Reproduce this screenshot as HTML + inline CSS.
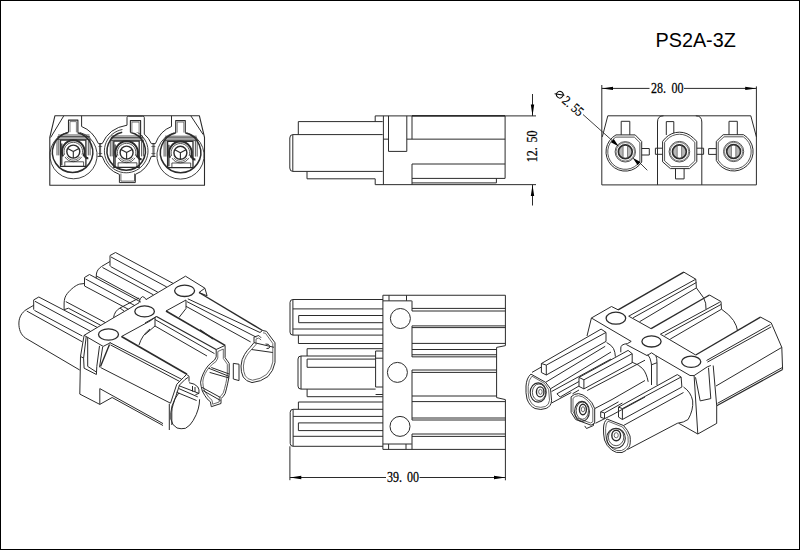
<!DOCTYPE html>
<html><head><meta charset="utf-8"><style>
html,body{margin:0;padding:0;background:#fff;}
svg{display:block;}
.ln{fill:none;stroke:#2b2b2b;stroke-width:1;stroke-linejoin:round;}
</style></head><body>
<svg width="800" height="550" viewBox="0 0 800 550">
<!-- border -->
<rect x="0.5" y="0.5" width="799" height="549" fill="none" stroke="#000" stroke-width="1"/>
<text x="655.5" y="46.7" font-family="'Liberation Sans', sans-serif" font-size="19.8" fill="#000">PS2A-3Z</text>

<!-- SIDE VIEW -->
<g class="ln">
<path d="M298.3 134.6 V121.6 H382.7"/>
<path d="M292.8 134.6 H382.7 M292.8 171.4 H382.7"/>
<path d="M292.8 134.6 Q289.8 134.6 289.8 138 V168 Q289.8 171.4 292.8 171.4 V134.6"/>
<path d="M307 171.4 V178.8 H375.2"/>
<path d="M375.2 121.6 V115.9 H412 M505.1 115.9 V178.4 M375.2 178.8 V184.65 H536"/>
<path d="M412 115.9 H505.1" stroke-width="1.6"/>
<path d="M383.4 115.9 V184.65"/>
<path d="M388.5 115.9 V151.4 H406.8 V115.9 M383.4 139.15 H388.5"/>
<path d="M406.8 139.15 H505.1 M412 115.9 V139.15"/>
<path d="M412 184.65 V164 H505.1 M412 178.4 H505.1"/>
<path d="M412 182.9 H496.4 V178.4"/>
<path d="M505.1 115.9 H536"/>
<path d="M532.5 94 V115.9 M532.5 184.65 V205.5"/>
</g>
<path d="M532.5 115.9 L530.8 104.5 L534.2 104.5 Z M532.5 184.65 L530.8 196 L534.2 196 Z" fill="#000"/>
<g transform="translate(537.2,162.2) rotate(-90)" font-family="'Liberation Serif', serif" font-size="14" fill="#000" stroke="#000" stroke-width="0.25">
<text transform="scale(0.86,1)">12.</text><text transform="translate(19.8,0) scale(0.86,1)">50</text></g>

<!-- REAR VIEW -->
<g class="ln">
<path d="M601.8 85 V184.9 H756.4 V86.4"/>
<path d="M602.3 136.9 L607.8 115.8 H750.8 L756.4 136.9"/>
<path d="M657.5 184.9 V122 Q657.5 115.8 663.5 115.8 M701.8 184.9 V122 Q701.8 115.8 695.8 115.8"/>
<path d="M601.8 88.4 H649.5 M684 88.4 H756.4"/>
<!-- hole1 -->
<path d="M616 134.9 A19.3 19.3 0 1 0 641.7 162 V141.5 L635.2 134.9 Z"/>
<path d="M615.8 137.1 A17.5 17.5 0 1 0 639.9 161.4 V142.6 L634.3 137.1 Z" stroke-width="0.8"/>
<circle cx="625.3" cy="151.8" r="10.2" stroke-width="0.8"/>
<circle cx="625.3" cy="151.8" r="9.2" stroke-width="0.6"/>
<circle cx="625.3" cy="151.8" r="6.3" fill="#b8b8b8" stroke="none" style="fill:#b8b8b8;stroke:none"/><rect x="623.1" y="145.3" width="4.4" height="13" fill="#fff" style="fill:#fff;stroke:none"/><circle cx="625.3" cy="151.8" r="6.9" stroke-width="1.7"/>
<path d="M621.2 134.9 V121.3 H629.8 V134.9 M641.7 148.5 H649.3 V155 H641.7"/>
<path d="M623.1 145.3 V158.3 M627.5 145.3 V158.3" stroke-width="0.7" stroke="#555"/>
<!-- hole2 -->
<path d="M665.4 138.1 A19.5 19.5 0 0 1 693.4 138.1 L696.8 141.3 V161.8 L689.5 168.6 H670.4 L662.6 161.8 V141.3 Z"/>
<path d="M667 139.4 A17.5 17.5 0 0 1 691.8 139.4 L694.8 142.3 V160.9 L688.7 166.6 H671.2 L664.6 160.9 V142.3 Z" stroke-width="0.8"/>
<circle cx="679.4" cy="151.7" r="10.3" stroke-width="0.8"/>
<circle cx="679.4" cy="151.7" r="9.3" stroke-width="0.6"/>
<circle cx="679.4" cy="151.7" r="6.3" fill="#b8b8b8" stroke="none" style="fill:#b8b8b8;stroke:none"/><rect x="677.2" y="145.2" width="4.4" height="13" fill="#fff" style="fill:#fff;stroke:none"/><circle cx="679.4" cy="151.7" r="6.9" stroke-width="1.7"/>
<path d="M666.3 135 V121.6 H673.8 V133 M662.6 148.2 H655.4 V154.3 H662.6 M696.8 148.2 H703.6 V154.3 H696.8 M675.5 168.6 V178.9 H684.1 V168.6"/>
<path d="M677.2 145.2 V158.2 M681.6 145.2 V158.2" stroke-width="0.7" stroke="#555"/>
<!-- hole3 -->
<path d="M743.5 134.7 A19.5 19.5 0 1 1 716.3 160.5 V141.3 L723.2 134.7 Z"/>
<path d="M743.3 136.8 A17.6 17.6 0 1 1 718.2 160 V142.2 L724 136.8 Z" stroke-width="0.8"/>
<circle cx="733.6" cy="151.5" r="10.1" stroke-width="0.8"/>
<circle cx="733.6" cy="151.5" r="9.1" stroke-width="0.6"/>
<circle cx="733.6" cy="151.5" r="6.3" fill="#b8b8b8" stroke="none" style="fill:#b8b8b8;stroke:none"/><rect x="731.4" y="145.0" width="4.4" height="13" fill="#fff" style="fill:#fff;stroke:none"/><circle cx="733.6" cy="151.5" r="6.9" stroke-width="1.7"/>
<path d="M729 134.7 V121.3 H737.3 V134.7 M716.3 148.6 H708.6 V154.4 H716.3"/>
<path d="M731.4 145 V158 M735.8 145 V158" stroke-width="0.7" stroke="#555"/>
<!-- diameter leader -->
<path d="M583 114.5 L612.3 140.7 M639.2 162.2 L647.3 170.3" stroke-width="0.9"/>
</g>
<path d="M618.8 146.5 L610.9 142.3 L613.7 139.1 Z M632.6 157.8 L640.5 162 L637.7 165.2 Z" fill="#000"/>
<path d="M601.8 88.4 L613 86.7 L613 90.1 Z M756.4 88.4 L745.2 86.7 L745.2 90.1 Z" fill="#000"/>
<g font-family="'Liberation Serif', serif" font-size="14" fill="#000" stroke="#000" stroke-width="0.25">
<text transform="translate(651,93) scale(0.86,1)">28.</text><text transform="translate(671.4,93) scale(0.86,1)">00</text>
<text transform="translate(386.9,482) scale(0.86,1)">39.</text><text transform="translate(407,482) scale(0.86,1)">00</text>
</g>
<g transform="translate(559.5,94.4) rotate(40.4)">
<circle cx="0.4" cy="0" r="3.3" fill="none" stroke="#000" stroke-width="1"/>
<path d="M-4.2 2.6 L4.2 -2.6" stroke="#000" stroke-width="1"/>
<text transform="translate(6.2,4.6) scale(0.86,1)" font-family="'Liberation Serif', serif" font-size="13.6" fill="#000" stroke="#000" stroke-width="0.2">2. 55</text>
</g>

<!-- TOP VIEW -->
<g class="ln">
<!-- pin1 -->
<path d="M292.9 299.5 H383 M292.9 335.1 H383 M292.9 299.5 Q290 299.5 290 302.5 V332.1 Q290 335.1 292.9 335.1 V299.5"/>
<path d="M292.9 308.9 H383 M292.9 329 H383"/>
<path d="M383 315.5 H298.7 V322.7 H383"/>
<path d="M298.4 335.1 V343.5 H383"/>
<!-- pin2 -->
<path d="M307.1 356 V348.7 H382.9 M307.1 389.1 V396.7 H382.9"/>
<path d="M301 356 H375.6 M301 389.1 H375.6 M301 356 Q298 356 298 359 V386.1 Q298 389.1 301 389.1 V356"/>
<path d="M375.6 367.3 H307.1 V359.1 H375.6"/>
<path d="M382.9 351 H375.6 V387 M375.6 358.2 H382.9 M375.6 394.5 H382.9 M375.6 387 H382.9"/>
<!-- pin3 -->
<path d="M298.4 409.3 V402 H383"/>
<path d="M293.1 409.3 H383 M293.1 446.3 H383 M293.1 409.3 Q290.2 409.3 290.2 412.3 V443.3 Q290.2 446.3 293.1 446.3 V409.3"/>
<path d="M293.1 416.4 H383 M293.1 436.3 H383"/>
<path d="M383 422.9 H298.4 V430.6 H383"/>
<!-- flange -->
<path d="M382.9 295.25 V449.4"/>
<path d="M382.9 300.85 H411.75 M389 295.25 V300.85 M406.5 295.25 V300.85"/>
<path d="M382.9 444 H411.75 M388.6 444 V449.4 M406 444 V449.4"/>
<circle cx="400.4" cy="318.5" r="10"/>
<circle cx="397.4" cy="372.4" r="10"/>
<circle cx="400" cy="426.4" r="10"/>
<path d="M412 300.85 V311 M412 325.9 V357 M412 370 V420 M412 434 V449.4"/>
<!-- body -->
<path d="M382.9 295.25 H505.4 V345.65 L496.6 347.4 V397.6 L505.4 399.6 V480.3"/>
<path d="M382.9 449.4 H505.4"/>
<path d="M412 308.4 H505.4 M412 311 H505.4 M412 325.9 H505.4 M412 327.6 H505.4 M412 343.4 H505.4"/>
<path d="M412 349.5 H496.6 M412 354.75 H496.6 M412 356.85 H496.6 M412 370 H496.6 M412 372.4 H496.6 M412 396 H496.6"/>
<path d="M412 401.6 H505.4 M412 418 H505.4 M412 420 H505.4 M412 434 H505.4 M412 436.4 H505.4"/>
<!-- dim -->
<path d="M289.9 446.3 V480.2 M289.9 477.5 H386 M419.5 477.5 H505.4"/>
</g>
<path d="M289.9 477.5 L301.3 475.8 L301.3 479.2 Z M505.4 477.5 L494 475.8 L494 479.2 Z" fill="#000"/>

<!-- FRONT VIEW -->
<g class="ln">
<path d="M54.9 115.8 H199.4 L204.5 137.4 V185.2 H49.8 V137.4 Z" stroke-width="1.1"/>
<path d="M63.8 115.8 L50.6 137.6"/>
<path d="M190.8 115.8 L203.2 134.6"/>
<path d="M79.61 132.40 A23.6 23.6 0 1 1 67.39 132.40" stroke-width="0.9"/>
<path d="M76.80 132.44 A20.2 20.2 0 1 1 68.40 132.44" stroke-width="1.5"/>
<path d="M129.99 129.53 A21.8 21.8 0 1 1 122.41 129.53" stroke-width="0.9"/>
<path d="M130.19 132.22 A19.2 19.2 0 1 1 122.21 132.22" stroke-width="1.5"/>
<path d="M186.61 132.70 A23.6 23.6 0 1 1 174.39 132.70" stroke-width="0.9"/>
<path d="M184.80 132.74 A20.2 20.2 0 1 1 176.40 132.74" stroke-width="1.5"/>
</g>
<rect x="68.5" y="120.1" width="9.400000000000006" height="13.4" fill="#fff"/>
<rect x="130.4" y="120.6" width="10.199999999999989" height="11.7" fill="#fff"/>
<rect x="175.7" y="120.6" width="9.600000000000023" height="13.2" fill="#fff"/>
<g class="ln">
<path d="M68.5 132.42 V120.1 H77.9 V132.71" stroke-width="1.1"/>
<path d="M70.0 132.17 V121.6 H76.4 V132.36" stroke-width="0.6"/>
<path d="M130.4 132.27 V120.6 H140.6 V138.30" stroke-width="1.1"/>
<path d="M131.9 132.67 V122.1 H139.1 V136.78" stroke-width="0.6"/>
<path d="M175.7 132.90 V120.6 H185.3 V132.85" stroke-width="1.1"/>
<path d="M177.2 132.59 V122.1 H183.8 V132.56" stroke-width="0.6"/>
<path d="M81.6 115.8 V126.5 Q93 131 98.4 143.6 H102.2 Q109 128 127 125.2 V117.5 Q127 116.2 128.5 116.2 H142.8 Q144.3 116.2 144.3 117.5 V134.1 Q149 138 151.3 143.6 H155.4 Q160 131 171.5 126.5 V115.8"/>
<path d="M97.5 156.4 H102.2 Q107 170 119.4 174.4 V182.6 H135.3 V174.4 Q147 170 151.3 156.4 H155.6"/>
<path d="M120.9 173.5 V181.1 H134.5 V173.5" stroke-width="0.7"/>
<path d="M99.6 143.6 V156.4 M100.6 143.6 V156.4" stroke-width="0.8"/>
<path d="M153 143.6 V156.4 M154 143.6 V156.4" stroke-width="0.8"/>
<path d="M98.4 146.5 H102.2 M98.4 153.5 H102.2 M151.3 146.5 H155.4 M151.3 153.5 H155.4" stroke-width="0.6"/>
<path d="M58.0 135.0 H89.5 M57.5 136.5 H89.9" stroke-width="0.8"/>
<path d="M57.3 137.9 H90.3 M57.3 139.4 H90.3" stroke-width="0.8"/>
<path d="M57.0 139.4 V155.4 M58.8 139.4 V155.4" stroke-width="0.8"/>
<path d="M88.3 139.4 V155.4 M90.1 139.4 V155.4" stroke-width="0.8"/>
<path d="M60.5 140.2 V166.4 H85.9 V140.2 Z" stroke-width="1.3"/>
<path d="M61.8 143.6 V165.1" stroke-width="1.2"/>
<path d="M64.8 166.4 V161.8 H83.6 V166.4" stroke-width="0.8"/>
<path d="M63.06 156.38 A11.3 11.3 0 1 1 83.54 156.38" stroke-width="2.0"/>
<path d="M64.56 154.78 A9.3 9.3 0 1 1 82.04 154.78" stroke-width="0.8"/>
<path d="M81.61 156.90 A9.6 9.6 0 0 1 64.99 156.90" stroke-width="0.8"/>
<path d="M79.85 156.69 A8.0 8.0 0 0 1 66.75 156.69" stroke-width="0.7"/>
<circle cx="73.3" cy="151.6" r="6.5" stroke-width="1.4"/>
<path d="M73.3 151.6 L67.7 148.6 M73.3 151.6 L78.9 148.6 M73.3 151.6 V158.1" stroke-width="1.1"/>
<path d="M84.3 153.6 Q84.8 158.6 88.3 158.1" stroke-width="2.2"/>
<path d="M111.3 136.0 H142.8 M110.8 137.5 H143.2" stroke-width="0.8"/>
<path d="M110.6 138.9 H143.6 M110.6 140.4 H143.6" stroke-width="0.8"/>
<path d="M110.3 140.4 V156.4 M112.1 140.4 V156.4" stroke-width="0.8"/>
<path d="M141.6 140.4 V156.4 M143.4 140.4 V156.4" stroke-width="0.8"/>
<path d="M113.8 141.2 V167.4 H139.2 V141.2 Z" stroke-width="1.3"/>
<path d="M115.1 144.6 V166.1" stroke-width="1.2"/>
<path d="M118.1 167.4 V162.8 H136.9 V167.4" stroke-width="0.8"/>
<path d="M116.36 157.38 A11.3 11.3 0 1 1 136.84 157.38" stroke-width="2.0"/>
<path d="M117.86 155.78 A9.3 9.3 0 1 1 135.34 155.78" stroke-width="0.8"/>
<path d="M134.91 157.90 A9.6 9.6 0 0 1 118.29 157.90" stroke-width="0.8"/>
<path d="M133.15 157.69 A8.0 8.0 0 0 1 120.05 157.69" stroke-width="0.7"/>
<circle cx="126.6" cy="152.6" r="6.5" stroke-width="1.4"/>
<path d="M126.6 152.6 L121.0 149.6 M126.6 152.6 L132.2 149.6 M126.6 152.6 V159.1" stroke-width="1.1"/>
<path d="M137.6 154.6 Q138.1 159.6 141.6 159.1" stroke-width="2.2"/>
<path d="M165.1 136.2 H196.6 M164.6 137.7 H197.0" stroke-width="0.8"/>
<path d="M164.4 139.1 H197.4 M164.4 140.6 H197.4" stroke-width="0.8"/>
<path d="M164.1 140.6 V156.6 M165.9 140.6 V156.6" stroke-width="0.8"/>
<path d="M195.4 140.6 V156.6 M197.2 140.6 V156.6" stroke-width="0.8"/>
<path d="M167.6 141.4 V167.6 H193.0 V141.4 Z" stroke-width="1.3"/>
<path d="M168.9 144.8 V166.3" stroke-width="1.2"/>
<path d="M171.9 167.6 V163.0 H190.7 V167.6" stroke-width="0.8"/>
<path d="M170.16 157.58 A11.3 11.3 0 1 1 190.64 157.58" stroke-width="2.0"/>
<path d="M171.66 155.98 A9.3 9.3 0 1 1 189.14 155.98" stroke-width="0.8"/>
<path d="M188.71 158.10 A9.6 9.6 0 0 1 172.09 158.10" stroke-width="0.8"/>
<path d="M186.95 157.89 A8.0 8.0 0 0 1 173.85 157.89" stroke-width="0.7"/>
<circle cx="180.4" cy="152.8" r="6.5" stroke-width="1.4"/>
<path d="M180.4 152.8 L174.8 149.8 M180.4 152.8 L186.0 149.8 M180.4 152.8 V159.3" stroke-width="1.1"/>
<path d="M191.4 154.8 Q191.9 159.8 195.4 159.3" stroke-width="2.2"/>
</g>
<!-- ISO VIEW LEFT -->
<g class="ln">
<path d="M110 266 V255.5 L115.5 252.5"/>
<path d="M115.5 252.5 L173.1 283.4"/>
<path d="M111 257 L166.8 287.0"/>
<path d="M110.5 266.5 L157.8 292.2"/>
<path d="M110 261.5 L101.5 266.5 C98.5 268.5 96.8 271 96.4 274 L96.2 278.3"/>
<path d="M102.5 267.5 L153.4 294.8"/>
<path d="M96.4 276 L140.0 299.5"/>
<path d="M84.5 286 V277.5 L89.5 274.5"/>
<path d="M89.5 274.5 L140.9 302.1"/>
<path d="M85.5 279 L134.9 305.6"/>
<path d="M84.5 286 L128.4 309.3"/>
<path d="M84.5 283.5 L79.6 284.1 C76 285 71 289 67.3 293.5 C65 296.5 64.3 299 64.1 303 V309.7 L68.4 308.2"/>
<path d="M68.4 308.2 L100.7 325.3"/>
<path d="M65.8 301.6 L105.4 322.6"/>
<path d="M33.7 309.7 V299.9 L38.8 297"/>
<path d="M38.8 297 L97.2 327.4"/>
<path d="M35 301.3 L90.5 331.3"/>
<path d="M34.4 310.4 L82.3 336.0"/>
<path d="M33.7 305.3 L26.1 309.7 C22 312.5 19 317 18.9 323 C18.8 329 20.5 334.5 25.5 338.1 L79.7 370"/>
<path d="M26.7 311 L82.3 341.8"/>
<path d="M84.1 335.3 L113.5 317.8 L124.5 311.4 L139 302.8 Q140 297 142.5 296.6 Q145 297 146 299.6 L185.5 276.2 L204.9 288.2 L207.1 295.8 L199 292.5 L204.9 288.2"/>
<path d="M113.5 317.8 Q114.5 311 120 308 L124.5 311.4"/>
<path d="M120 308 L139 298"/>
<ellipse cx="108.5" cy="334.5" rx="10" ry="5.7" stroke-width="1.3"/>
<ellipse cx="144.6" cy="311.4" rx="9.8" ry="5.5" stroke-width="1.3"/>
<ellipse cx="184.6" cy="290.8" rx="10" ry="5.7" stroke-width="1.3"/>
<path d="M84.1 335.3 L103.2 346.4 L110.5 342.7"/>
<path d="M84.1 335.3 L80.5 356.4 L83.6 358.2 L84.1 368.2 L96.4 374.5 L96.8 366.4 L99.5 345.9"/>
<path d="M86.2 336.8 L83.6 358.2"/>
<path d="M87.7 337.3 V366.4 L96.8 372.3"/>
<path d="M102.7 346.8 L99.5 367.3"/>
<path d="M109.5 344.5 L100.5 366.4" stroke-width="1.4"/>
<path d="M80.5 356.4 L79.8 394.1 L99.8 404.4 V388.6 L163 423.6"/>
<path d="M99.8 404.4 L112.1 397.5 L163 425.5"/>
<path d="M109.7 342.5 L181.7 379.3"/>
<path d="M110.5 344.9 L180.1 381.7"/>
<path d="M100.5 367.5 L170.5 403.2 L176.8 384.2 L183.4 377.6 L186.6 374.5"/>
<path d="M169.3 403.8 V430"/>
<path d="M186.6 374.5 L189 376.2 V381.5"/>
<path d="M189 382.7 Q195 383.5 197.8 386.9 Q199.5 389.5 199 393.4 L195.5 394.6"/>
<path d="M192.5 386 V391.5 M195 387 V392"/>
<path d="M188.2 377.3 L185 379.5 L179.5 385 L173.2 404.5 Q171.8 408 171.8 412 V425"/>
<path d="M178.9 392.8 Q174 399 172 406 Q170.2 413 170.8 419 Q172 425.5 177 428 Q181 429.3 185.5 428.3 Q190.5 425.5 193.1 420.6 Q196.8 414.5 198.2 409 Q199.6 404 199.6 399.3"/>
<path d="M178.9 385.7 L199 393.4"/>
<path d="M178.9 388.6 L197.8 396.9"/>
<path d="M176.5 392.2 L196.6 400.5"/>
<path d="M121.5 336.5 L150 321 L156.5 316.5"/>
<path d="M121.5 336.5 L187 374.2" stroke-width="1.6"/>
<path d="M139 345 Q142 335 150 329"/>
<path d="M156.5 316.5 L216.2 349.5" stroke-width="1.2"/>
<path d="M155 318 V326 L145 334.5"/>
<path d="M156.5 316.5 L145 323"/>
<path d="M155 319.5 L214.5 353.6"/>
<path d="M155 326 L207 356"/>
<path d="M216.2 349.5 L225.1 345.4 V357.7 L229.2 363.4 V374 Q228.8 379 227.6 383.9 Q226.5 389 225.1 393.7 Q223.5 396.5 221 398.6 V403.5 L211.3 406.7 L210.4 401.8 Q206.5 399 204.7 395.3 Q201.6 391 201.2 386.5 Q200.4 382 200.6 382.2 Q201.2 378 203.1 374 Q205 369.5 208 365.9 Q211 362.5 214.5 360.1 L216.2 356.9 Z"/>
<path d="M217.8 351.5 L223.3 349 V358.5 L227.3 364.2 V374 Q227 379 225.8 383.5 Q224.7 388.5 223.3 392.8 Q221.8 395.5 219.2 397.5 V402 L212.7 404.2 L212 400.2 Q208.3 397.5 206.5 394 Q203.6 390 203.2 386 Q202.6 382 203 380 Q203.6 376.5 205.2 373.5 Q207 369.8 209.8 366.8 Q212.6 363.8 216 361.5 L217.8 358 Z" stroke-width="0.7"/>
<path d="M211.3 367.5 L229.2 374"/>
<path d="M209.6 372.4 L229.2 378"/>
<path d="M201.8 387.3 L220.5 397.5 M202.6 390.3 L220.5 400.5"/>
<path d="M208.6 368.2 L229.2 376.4"/>
<path d="M233.3 363.4 V379 M239 364.2 V380.6 M233.3 363.4 L239 364.2 M233.3 379 L239 380.6"/>
<path d="M166 311 L186 300"/>
<path d="M166 311 L225.1 345.4" stroke-width="1.6"/>
<path d="M186 300 V308.5 L179 317.5"/>
<path d="M199 292.5 L262.5 330.5" stroke-width="1.4"/>
<path d="M262.5 330.5 L266.5 331.3 L275 342.8 V362.5 Q273.5 371 268 376.5 Q261 381.8 252 382.6 Q246 381.5 243.2 377 Q240.8 372 241 366 Q241.5 359 244.6 354.4 Q247 350.5 250 347.5 L254 342.6 V337 L258.8 335.5 L261.1 337.8"/>
<path d="M263 332.8 L265.5 333.3 L272.8 343.5 V362 Q271.5 369.5 266.5 374.5 Q260.5 379.3 252.5 380.2 Q247.5 379.5 245.3 375.8 Q243.2 371.5 243.4 366 Q243.8 360 246.4 356 Q248.6 352.5 251.5 349.5 L256 344.5 V339 L258.8 338 L261.1 340" stroke-width="0.7"/>
<path d="M187.8 298.8 L260 332.5 L262.5 330.5"/>
<path d="M186.9 301.6 L256.3 337.2"/>
<path d="M186 306.3 L250.6 341.9"/>
<path d="M254 342.6 L274 347.3"/>
<path d="M251.5 349.5 L272.8 352.5"/>
<path d="M265.5 344 Q269 343.5 270 346.5 Q269.5 349 266.5 348.5"/>
<path d="M200 329.7 L213.1 339" stroke-width="1.4"/>
</g>
<!-- ISO VIEW RIGHT -->
<g class="ln">
<path d="M618.1 309.8 L683.8 272.1" stroke-width="1.4"/>
<path d="M683.8 272.1 L695.8 279.2 L696.4 287.9 L703.5 297.7 Q706.5 303 706 309"/>
<path d="M628.7 316.2 L695.8 279.2"/>
<path d="M633.1 317.8 L696.4 282.5"/>
<path d="M639.6 321.7 L696.4 287.9"/>
<path d="M628.7 316.2 L651.1 328.7"/>
<path d="M651.1 328.7 L709.5 295" stroke-width="1.4"/>
<path d="M709.5 295 L721 301.6 L721.5 309.2 Q730 315 733.5 320.5 Q737 326 737.6 331"/>
<path d="M660.4 334.2 L719.8 302.1"/>
<path d="M664.7 335.3 L721 304.5"/>
<path d="M670.2 339.1 L721.5 309.2"/>
<path d="M660.4 334.2 L695.7 355"/>
<path d="M695.7 355 L760.5 317.1" stroke-width="1.4"/>
<path d="M760.5 317.1 L771.2 322.8 L781.8 347.4 L782.6 369.5"/>
<path d="M706.5 360.5 L770.4 324.5"/>
<path d="M707.4 362.1 L771.2 326.9"/>
<path d="M716 386 L781.8 347.4"/>
<path d="M716.7 405.7 L782.6 369.5" stroke-width="1.2"/>
<path d="M717.5 403.3 L782.2 367.6"/>
<path d="M591.4 318 L611.5 306.5 L618.1 309.8"/>
<path d="M591.4 318 L587 336"/>
<path d="M591.4 318 L631.2 341.4 L627.4 343.6 L624.1 344.2 L621.8 345.4 Q620.8 346.5 620.8 348 V352.3"/>
<path d="M626.4 344.6 L647.1 355.6 L651.5 352.8 L655.8 355.6 L690 375.5"/>
<path d="M647.7 354.5 Q650.5 358 651 362.1 Q651.5 364 651.5 366 V385"/>
<path d="M655.8 355.6 Q657 358 657 362.7 V385"/>
<path d="M651.5 364.8 L657 362.7"/>
<ellipse cx="615.9" cy="318.2" rx="9.8" ry="6.0" stroke-width="1.3"/>
<ellipse cx="651.5" cy="341.4" rx="9.6" ry="5.6" stroke-width="1.3"/>
<ellipse cx="691.2" cy="361.8" rx="9.6" ry="5.6" stroke-width="1.3"/>
<path d="M690 375.5 L694.1 375.6 L707.2 366.9 L710.8 365.5"/>
<path d="M694.1 375.6 L697.8 434 L716.7 423.4"/>
<path d="M697.8 434 L678.8 423.3"/>
<path d="M695.5 377.3 L700.2 400.9 L710.8 398.6 L708.5 367.8"/>
<path d="M713.2 365.5 L716.7 405.7 V423.4"/>
<path d="M530.9 374.1 L545.6 382.3 L550.5 388.8 L551.6 400.8 Q551 406.5 546.2 408.4 Q541 410.5 535 408.5 Q529.5 406 527 399 Q525.5 393 526 386 Q526.5 378 530.9 374.1 Z" stroke-width="1.0"/>
<path d="M532 376.2 L544.5 383.4 L548.6 389.4 L549.5 400.3 Q549 405 545.3 406.5 Q541 408.2 535.6 406.5 Q531 404.5 529 398.5 Q527.8 393 528.2 386.5 Q528.6 379.5 532 376.2 Z" stroke-width="0.7"/>
<ellipse cx="538.2" cy="392.5" rx="8" ry="9.6" stroke-width="1.1"/>
<ellipse cx="539.0" cy="392.26" rx="6.64" ry="8.26" stroke-width="0.8"/>
<ellipse cx="540.2" cy="391.9" rx="3.76" ry="4.99" stroke-width="1.4"/>
<ellipse cx="540.4" cy="391.84" rx="1.76" ry="2.5" stroke-width="0.7"/>
<path d="M545.6 382.3 L605.2 346.3"/>
<path d="M550.5 388.8 L611 352"/>
<path d="M551.6 391.5 L611 359"/>
<path d="M606.6 342.5 Q611.5 345 613.5 348.5 Q615.2 352 615.4 356.7"/>
<path d="M551.6 403 L571.3 392.5"/>
<path d="M556.9 393.8 L560.2 397 M556.9 393.8 L579 381.5 M560.2 397 L579 386"/>
<path d="M541.4 372.5 V363.5 L546.3 365.1 V375 Z"/>
<path d="M541.4 363.5 L601.1 329.1 L606 332.4 V341.4"/>
<path d="M546.3 365.1 L606 332.4"/>
<path d="M546.3 375 L606 341.4"/>
<path d="M532 372.4 L541.4 367"/>
<path d="M571.1 396.8 V412.3 L575.6 419.5 L591 425.2 L594.7 423.2 V408.6 Q592.5 402 588 398.5 Q583 394 578.4 393.6 Q574 393.8 571.1 396.8 Z" stroke-width="1.0"/>
<path d="M573 398.3 V411.8 L577 418 L590.5 423 L592.8 421.8 V409 Q590.8 403.2 587 400 Q582.8 396 578.6 395.7 Q575 395.8 573 398.3 Z" stroke-width="0.7"/>
<ellipse cx="582" cy="411.4" rx="7.4" ry="10" stroke-width="1.1"/>
<ellipse cx="582.36" cy="410.64" rx="6.14" ry="8.6" stroke-width="0.8"/>
<ellipse cx="582.9" cy="409.5" rx="3.48" ry="5.2" stroke-width="1.4"/>
<ellipse cx="582.99" cy="409.31" rx="1.63" ry="2.6" stroke-width="0.7"/>
<path d="M584.7 425.9 L586.5 428.5 L593.5 425.5 V423.5"/>
<path d="M594.7 408.6 L612 399.5 L645 380.5"/>
<path d="M595.6 423.2 L612 415 L645 397"/>
<path d="M579 386.4 V377.4 L583.9 379.8 V388.9 Z"/>
<path d="M579 377.4 L628.1 350.4 L632.2 353.7 V362.7"/>
<path d="M583.9 379.8 L632.2 353.7"/>
<path d="M583.9 388.9 L632.2 362.7"/>
<path d="M587.2 390.5 L645 360.2"/>
<path d="M631.8 362.1 Q639 364.5 642.7 368.7 Q646.5 373 648.2 381.8"/>
<path d="M572.5 393.8 L579 390"/>
<path d="M607.1 419.1 L623.5 425.5 Q628 430 630 436 Q631 444 628.9 447.3 Q626.5 451 622 452.5 Q616 453.5 611.6 450 Q606.5 446 604.5 440 Q603.3 434 603.5 428 Q603.8 421.5 607.1 419.1 Z" stroke-width="1.0"/>
<path d="M608 421.2 L622.5 427 Q626.3 431 628 436.5 Q628.8 443 627.2 446 Q625 449.5 621.5 450.5 Q616.5 451.5 612.5 448.5 Q608 445 606.4 439.5 Q605.4 434 605.6 428.5 Q605.8 423.2 608 421.2 Z" stroke-width="0.7"/>
<ellipse cx="616" cy="438.2" rx="9.3" ry="10" stroke-width="1.1"/>
<ellipse cx="616.08" cy="437.12" rx="7.72" ry="8.6" stroke-width="0.8"/>
<ellipse cx="616.2" cy="435.5" rx="4.37" ry="5.2" stroke-width="1.4"/>
<ellipse cx="616.22" cy="435.23" rx="2.05" ry="2.6" stroke-width="0.7"/>
<path d="M600.7 417.3 V411.8 L604.5 413 V418.6 Z"/>
<path d="M600.7 411.8 L618.5 401.8"/>
<path d="M604.5 413 L622.4 403"/>
<path d="M618.5 417.1 V407.1 L622.4 408.6 V419.5 Z"/>
<path d="M618.5 407.1 L677.3 374.6 L681.1 377 L681.9 387"/>
<path d="M622.4 408.6 L681.1 377"/>
<path d="M622.4 419.5 L681.9 387"/>
<path d="M623.5 425.5 L683.5 392.5"/>
<path d="M627.5 449.5 L677.3 423.3"/>
<path d="M683.5 387 Q691 392 692.7 400.9 Q693.5 410 688.1 419.5 Q684 422.5 677.3 423.3"/>
</g>
</svg>
</body></html>
